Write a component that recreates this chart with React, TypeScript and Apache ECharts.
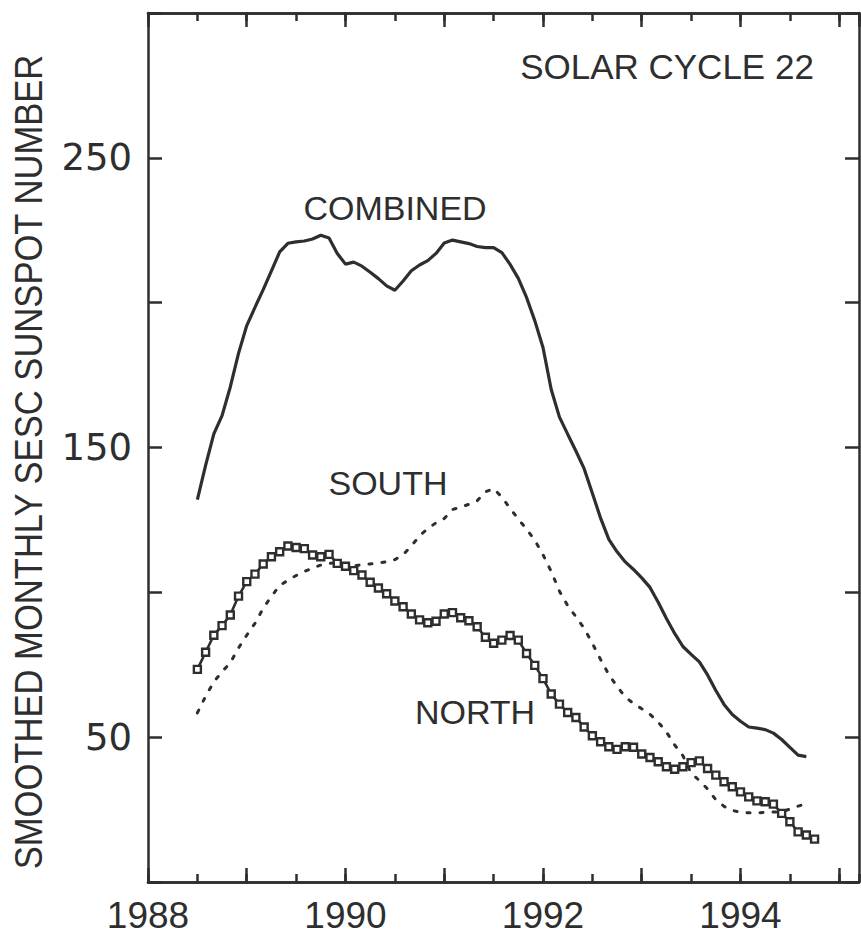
import React, { useEffect, useRef } from "react";
import * as echarts from "echarts";

// Monthly smoothed sunspot numbers, first value at mid-1988
const START_YEAR = 1988.5;

const combined = [
  132, 143.8, 154.7, 161, 170.9, 182.5, 192.1, 198.4, 204.5, 211, 217.5, 220.5,
  221, 221.3, 222, 223.3, 222.3, 217, 213.3, 214, 212.6, 210.5, 208.3, 205.8,
  204.3, 207.5, 211, 213, 214.5, 217, 220.6, 221.6, 221, 220.4, 219.4, 219,
  219, 217.3, 213.2, 208.4, 201.8, 193.8, 184.5, 170, 160.5, 154.6, 148.8, 142.7,
  134.2, 125.6, 118.3, 114, 110.5, 107.9, 105, 101.7, 96.6, 91, 85.8, 81.3,
  78.6, 76, 71.5, 66.1, 61.3, 57.8, 55.5, 53.5, 53.1, 52.6, 51.4, 49.2,
  46.5, 43.8, 43.3,
];

const north = [
  73.4, 79.3, 85.2, 88.5, 92.2, 98.7, 103.7, 106.3, 109.8, 112.3, 114, 116,
  115.5, 115.1, 112.9, 112.3, 113.1, 110, 109, 107.5, 106, 103.5, 101.5, 99.5,
  97, 95, 92.5, 90.5, 89.5, 90, 92.5, 93, 91.2, 90.2, 88.1, 84.5,
  82.4, 83.5, 85.1, 83.5, 78.9, 74.8, 70.2, 64.9, 61.4, 58.5, 56.8, 53.5,
  50.5, 48.4, 46.7, 45.8, 46.7, 46.5, 44.2, 43, 41.5, 39.8, 38.9, 39.8,
  41.2, 41.8, 39.2, 36.9, 34.6, 32.9, 31.1, 29.4, 28, 27.7, 26.9, 23.7,
  20.8, 17.3, 16.2, 14.8,
];

const south = [
  58.4, 64.1, 69.1, 72.6, 75.7, 80.8, 85.2, 89.3, 94.5, 98.6, 102.4, 104.1,
  105.8, 107.2, 108.4, 109.4, 110, 110.2, 109.5, 109.2, 109.5, 109.8, 110.2, 110.5,
  111.3, 113, 116, 119.5, 122, 124, 125.5, 128.6, 129.4, 130.4, 131.6, 134.7,
  135.8, 132.9, 129, 125.3, 121.8, 118, 113, 107.2, 100.4, 95.4, 91.6, 87.6,
  82.4, 76.8, 71.6, 67.5, 63.9, 61.6, 59.8, 57.9, 55.2, 51.8, 47.3, 43.6,
  37.6, 35, 32.1, 28.4, 26.1, 24.7, 24.1, 23.9, 23.9, 24, 24.2, 24.2,
  25.2, 26.2, 27,
];

const xTickLabels = ["1988", "1990", "1992", "1994"];
const yTickLabels = ["50", "150", "250"];

const INK = "#2e2e2e";
const FONT = "Liberation Sans, Arial, sans-serif";

function toPairs(vals: number[]) {
  return vals.map((v, i) => [START_YEAR + i / 12, v]);
}

export default function App() {
  const ref = useRef<HTMLDivElement>(null);

  useEffect(() => {
    if (!ref.current) return;
    const chart = echarts.init(ref.current, null, { renderer: "svg" });

    const xBase = {
      type: "value" as const,
      min: 1988,
      max: 1995.2,
      splitLine: { show: false },
      axisLine: { show: true, onZero: false, lineStyle: { color: INK, width: 2.5 } },
    };
    const yBase = {
      type: "value" as const,
      min: 0,
      max: 300,
      interval: 50,
      splitLine: { show: false },
      axisLine: { show: true, onZero: false, lineStyle: { color: INK, width: 2.5 } },
      axisTick: { show: true, inside: true, length: 14, lineStyle: { color: INK, width: 2.5 } },
    };

    const option: any = {
      animation: false,
      backgroundColor: "#ffffff",
      grid: { left: 148, right: 2, top: 13, bottom: 55, containLabel: false },
      xAxis: [
        {
          ...xBase,
          position: "bottom",
          interval: 1,
          axisTick: { show: true, inside: true, length: 14, lineStyle: { color: INK, width: 2.5 } },
          axisLabel: {
            show: true,
            margin: 15,
            fontSize: 37,
            lineHeight: 37,
            fontFamily: FONT,
            color: INK,
            showMaxLabel: false,
            formatter: (v: number) => (xTickLabels.includes(String(v)) ? String(v) : ""),
          },
        },
        {
          ...xBase,
          position: "bottom",
          interval: 0.5,
          axisTick: { show: true, inside: true, length: 8, lineStyle: { color: INK, width: 2.5 } },
          axisLabel: { show: false },
        },
        {
          ...xBase,
          position: "top",
          interval: 1,
          axisTick: { show: true, inside: true, length: 14, lineStyle: { color: INK, width: 2.5 } },
          axisLabel: { show: false },
        },
        {
          ...xBase,
          position: "top",
          interval: 0.5,
          axisTick: { show: true, inside: true, length: 8, lineStyle: { color: INK, width: 2.5 } },
          axisLabel: { show: false },
        },
      ],
      yAxis: [
        {
          ...yBase,
          position: "left",
          axisLabel: {
            show: true,
            margin: 16,
            fontSize: 37,
            fontFamily: "DejaVu Sans, sans-serif",
            color: INK,
            formatter: (v: number) => (yTickLabels.includes(String(v)) ? String(v) : ""),
          },
        },
        {
          ...yBase,
          position: "right",
          axisLabel: { show: false },
        },
      ],
      graphic: [
        {
          type: "text",
          x: 29,
          y: 462,
          rotation: Math.PI / 2,
          scaleX: 0.91,
          style: {
            text: "SMOOTHED MONTHLY SESC SUNSPOT NUMBER",
            fontSize: 38,
            fontFamily: FONT,
            fill: INK,
            textAlign: "center",
            textVerticalAlign: "middle",
          },
        },
        {
          type: "text",
          x: 667,
          y: 66,
          style: { text: "SOLAR CYCLE 22", fontSize: 35, fontFamily: FONT, fill: INK, textAlign: "center", textVerticalAlign: "middle" },
        },
        {
          type: "text",
          x: 395,
          y: 208,
          style: { text: "COMBINED", fontSize: 34, fontFamily: FONT, fill: INK, textAlign: "center", textVerticalAlign: "middle" },
        },
        {
          type: "text",
          x: 388,
          y: 483,
          style: { text: "SOUTH", fontSize: 34, fontFamily: FONT, fill: INK, textAlign: "center", textVerticalAlign: "middle" },
        },
        {
          type: "text",
          x: 475,
          y: 712,
          style: { text: "NORTH", fontSize: 34, fontFamily: FONT, fill: INK, textAlign: "center", textVerticalAlign: "middle" },
        },
      ],
      series: [
        {
          name: "Combined",
          type: "line",
          xAxisIndex: 0,
          yAxisIndex: 0,
          data: toPairs(combined),
          showSymbol: false,
          symbol: "none",
          lineStyle: { color: INK, width: 3.2 },
          z: 3,
        },
        {
          name: "South",
          type: "line",
          xAxisIndex: 0,
          yAxisIndex: 0,
          data: toPairs(south),
          showSymbol: false,
          symbol: "none",
          lineStyle: { color: INK, width: 3, type: [3, 10], cap: "round" },
          z: 3,
        },
        {
          name: "North",
          type: "line",
          xAxisIndex: 0,
          yAxisIndex: 0,
          data: toPairs(north),
          showSymbol: true,
          symbol: "rect",
          symbolSize: 7,
          itemStyle: { color: "#ffffff", borderColor: INK, borderWidth: 2.4 },
          lineStyle: { color: INK, width: 2.6 },
          z: 4,
        },
      ],
    };

    chart.setOption(option);
    return () => {
      chart.dispose();
    };
  }, []);

  return (
    <div
      ref={ref}
      style={{ position: "fixed", left: 0, top: 0, width: 861, height: 937, background: "#fff" }}
    />
  );
}
